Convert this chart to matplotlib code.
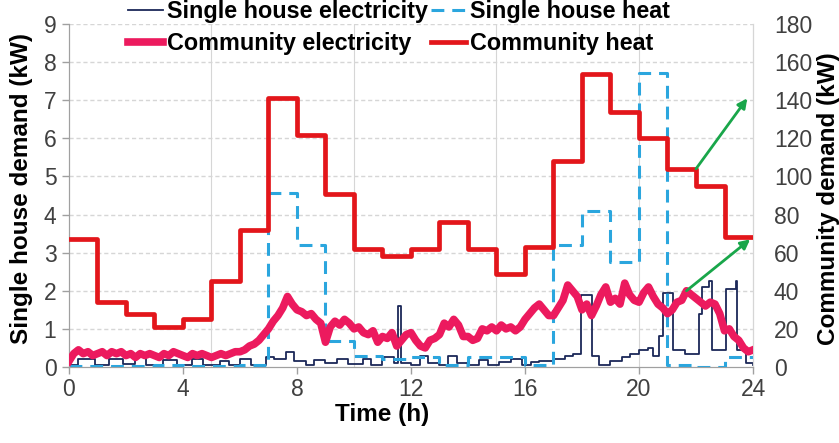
import matplotlib
matplotlib.use("Agg")
import matplotlib.pyplot as plt
import numpy as np

plt.rcParams["font.family"] = ["Liberation Sans", "DejaVu Sans"]

# hourly step profiles (value holds from hour h to h+1)
hours = list(range(25))
house_heat = [0.02, 0.02, 0.02, 0.05, 0.02, 0.02, 0.05, 4.57, 3.2, 0.68, 0.3, 0.2,
              0.25, 0.05, 0.25, 0.25, 0.05, 3.2, 4.1, 2.75, 7.72, 0.05, 0.0, 0.25]
community_heat = [67, 34, 28, 21, 25, 45, 72, 141, 122, 91, 62, 58,
                  62, 76, 62, 49, 63, 108, 154, 134, 120, 104, 95, 68]

# 10-minute community electricity (kW), one row per hour
ten_min = np.linspace(0, 24, 145)
community_elec = [3, 7, 9, 7, 8, 6,
                  7, 8, 6, 8, 7, 8,
                  6, 7, 5, 7, 6, 7,
                  6, 5, 7, 6, 8, 7,
                  6, 5, 7, 6, 7, 6,
                  5, 6, 7, 6, 7, 8,
                  8, 9, 11, 12, 14, 17,
                  20, 24, 27, 31, 37, 33,
                  30, 29, 27, 28, 25, 23,
                  13, 21, 24, 22, 25, 23,
                  20, 21, 18, 17, 19, 13,
                  16, 15, 18, 11, 14, 17,
                  18, 14, 11, 10, 14, 15,
                  17, 23, 21, 25, 22, 16,
                  16, 14, 15, 20, 19, 21,
                  19, 22, 20, 21, 19, 21,
                  25, 28, 31, 33, 30, 27,
                  27, 31, 35, 43, 40, 37,
                  30, 33, 27, 32, 38, 42,
                  34, 36, 33, 44, 38, 35,
                  34, 39, 42, 37, 33, 31,
                  28, 30, 34, 35, 40, 38,
                  36, 34, 32, 34, 33, 28,
                  19, 20, 16, 14, 10, 8,
                  9]

# single house electricity, change points (h) and level (kW)
house_elec_t = [0, 0.3, 0.9, 1.4, 1.9, 2.3, 2.7, 3.3, 3.8, 4.3, 4.7, 5.3, 5.6,
                6.0, 6.4, 6.9, 7.2, 7.6, 7.9, 8.3, 8.6, 9.0, 9.4, 9.8, 10.3,
                10.6, 11.0, 11.4, 11.55, 11.65, 12.0, 12.3, 12.6, 13.0, 13.3,
                13.6, 14.0, 14.4, 14.7, 15.1, 15.5, 15.9, 16.2, 16.5, 17.0,
                17.4, 17.7, 17.95, 18.35, 18.6, 19.0, 19.4, 19.7, 20.0, 20.3,
                20.5, 20.7, 20.85, 21.2, 21.6, 22.1, 22.2, 22.45, 22.55, 23.05,
                23.4, 23.45, 23.75, 24]
house_elec = [0.05, 0.2, 0.05, 0.22, 0.08, 0.25, 0.05, 0.18, 0.05, 0.2, 0.05, 0.15, 0.05,
              0.2, 0.05, 0.25, 0.2, 0.4, 0.15, 0.05, 0.18, 0.1, 0.22, 0.08, 0.2,
              0.05, 0.25, 0.1, 1.6, 0.1, 0.05, 0.28, 0.1, 0.05, 0.28,
              0.1, 0.05, 0.18, 0.05, 0.12, 0.2, 0.05, 0.12, 0.15, 0.2,
              0.28, 0.35, 1.9, 0.3, 0.05, 0.15, 0.25, 0.35, 0.45, 0.5,
              0.3, 0.8, 1.95, 0.45, 0.35, 1.4, 2.1, 2.25, 0.45, 2.05,
              2.25, 0.45, 0.1, 0.05]

navy = "#1b2858"
cyan = "#2ba6de"
pink = "#ec1a5e"
red = "#e3161b"
green = "#19a64a"
grid_c = "#d6d6d6"
tick_c = "#404040"

fig = plt.figure(figsize=(8.39, 4.43), dpi=100)
ax = fig.add_axes([0.0822, 0.1716, 0.8153, 0.7742])
ax2 = ax.twinx()

ax.set_xlim(0, 24)
ax.set_ylim(0, 9)
ax2.set_ylim(0, 180)

for y in range(1, 10):
    ax.axhline(y, color=grid_c, lw=1, ls=(0, (3, 2)), zorder=0)
for x in (5, 10, 15, 20):
    ax.axvline(x, color=grid_c, lw=0.8, zorder=0)

l_he, = ax.step(house_elec_t, house_elec, where="post", color=navy, lw=1.3,
                label="Single house electricity", zorder=2)
l_hh, = ax.step(hours, house_heat + house_heat[-1:], where="post", color=cyan,
                lw=2.2, ls=(0, (4.2, 2.6)), label="Single house heat", zorder=3)
l_ce, = ax2.plot(ten_min, community_elec, color=pink, lw=5.5,
                 solid_joinstyle="round", label="Community electricity", zorder=3)
l_ch, = ax2.step(hours, community_heat + community_heat[-1:], where="post",
                 color=red, lw=3.4, label="Community heat", zorder=4)

# arrows pointing the community curves to the right axis
arrow = dict(arrowstyle="-|>", color=green, lw=2, mutation_scale=14, shrinkA=0, shrinkB=0)
ax2.annotate("", xy=(23.8, 141), xytext=(22.0, community_heat[21]), arrowprops=arrow, zorder=5)
ax2.annotate("", xy=(23.9, 67), xytext=(ten_min[130], community_elec[130]),
             arrowprops=arrow, zorder=5)

ax.set_xticks(range(0, 25, 4))
ax.set_yticks(range(0, 10))
ax2.set_yticks(range(0, 181, 20))

ax.tick_params(axis="x", direction="out", length=5, width=1, color="#a0a0a0",
               labelsize=16.5, labelcolor=tick_c, pad=3)
ax.tick_params(axis="y", direction="out", length=5, width=1, color="#a0a0a0",
               labelsize=16.5, labelcolor=tick_c, pad=4)
ax2.tick_params(axis="y", length=0, labelsize=16.5, labelcolor=tick_c, pad=15)

for a in (ax, ax2):
    a.spines["top"].set_visible(False)
    a.spines["left"].set_color("#a0a0a0")
    a.spines["bottom"].set_color("#a0a0a0")
    a.spines["right"].set_color(grid_c)

ax.set_xlabel("Time (h)", fontsize=17.5, fontweight="bold")
ax.xaxis.set_label_coords(0.458, -0.105)
ax.set_ylabel("Single house demand (kW)", fontsize=17.5, fontweight="bold")
ax.yaxis.set_label_coords(-0.053, 0.52)
ax2.set_ylabel("Community demand (kW)", fontsize=17.5, fontweight="bold")
ax2.yaxis.set_label_coords(1.094, 0.49)

fig.legend(handles=[l_he, l_ce, l_hh, l_ch], ncol=2, loc="upper left",
           bbox_to_anchor=(0.1526, 1.0), frameon=False,
           prop={"weight": "bold", "size": 16.8}, handlelength=1.5, handletextpad=0.17,
           columnspacing=0.13, labelspacing=0.4, borderpad=0, borderaxespad=0)

fig.savefig("out.png", dpi=100)
